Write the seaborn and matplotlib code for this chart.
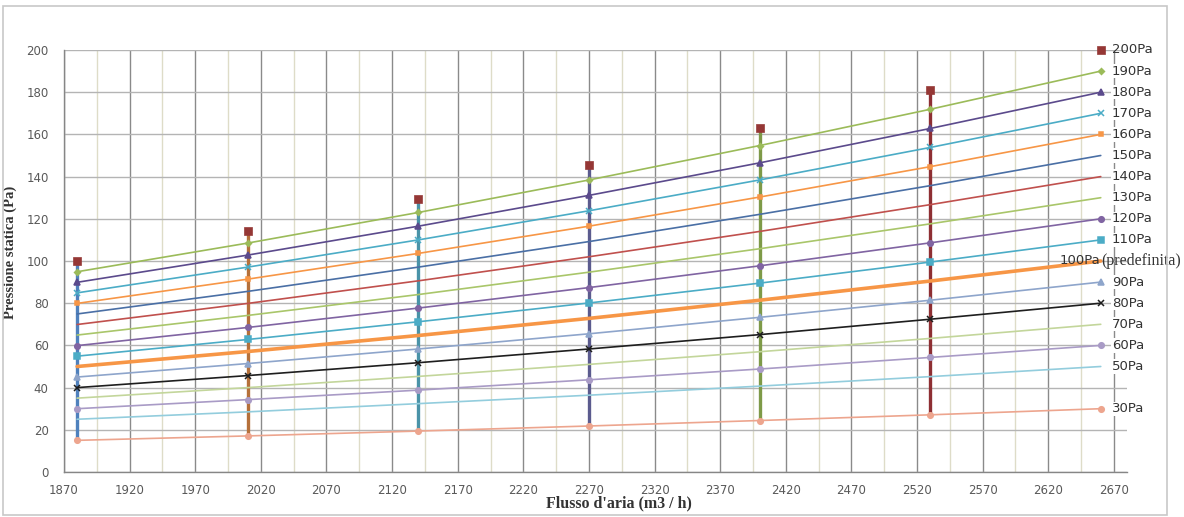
import matplotlib
matplotlib.use("Agg")
import numpy as np
import matplotlib.pyplot as plt
import matplotlib.patches as mpatches
from matplotlib.ticker import FixedLocator
import seaborn as sns

# dati
flow = [1880, 2010, 2140, 2270, 2400, 2530, 2660]
p200 = [99.9, 114.2, 129.4, 145.7, 162.8, 180.9, 200]
p190 = [94.9, 108.5, 123.0, 138.4, 154.7, 171.9, 190]
p180 = [89.9, 102.8, 116.5, 131.1, 146.5, 162.8, 180]
p170 = [84.9, 97.1, 110.0, 123.8, 138.4, 153.8, 170]
p160 = [79.9, 91.4, 103.6, 116.5, 130.3, 144.7, 160]
p150 = [74.9, 85.6, 97.1, 109.2, 122.1, 135.7, 150]
p140 = [69.9, 79.9, 90.6, 102.0, 114.0, 126.7, 140]
p130 = [64.9, 74.2, 84.1, 94.7, 105.8, 117.6, 130]
p120 = [59.9, 68.5, 77.7, 87.4, 97.7, 108.6, 120]
p110 = [54.9, 62.8, 71.2, 80.1, 89.5, 99.5, 110]
p100 = [50.0, 57.1, 64.7, 72.8, 81.4, 90.5, 100]
p90 = [45.0, 51.4, 58.3, 65.5, 73.3, 81.4, 90]
p80 = [40.0, 45.7, 51.8, 58.3, 65.1, 72.4, 80]
p70 = [35.0, 40.0, 45.3, 51.0, 57.0, 63.3, 70]
p60 = [30.0, 34.3, 38.8, 43.7, 48.8, 54.3, 60]
p50 = [25.0, 28.5, 32.4, 36.4, 40.7, 45.2, 50]
p30 = [15.0, 17.1, 19.4, 21.8, 24.4, 27.1, 30]

x_ticks = np.arange(1870, 2671, 50)
y_ticks = np.arange(0, 201, 20)

# (etichetta, valori, colore, marker, dimensione marker, spessore linea)
curves = [
    ("190Pa", p190, "#9BBB59", "D", 3.0, 1.2),
    ("180Pa", p180, "#5B4A8C", "^", 4.0, 1.2),
    ("170Pa", p170, "#4BACC6", "x", 4.0, 1.2),
    ("160Pa", p160, "#F79646", "s", 3.5, 1.2),
    ("150Pa", p150, "#4A6FA5", None, 0, 1.2),
    ("140Pa", p140, "#C0504D", None, 0, 1.2),
    ("130Pa", p130, "#A9C66A", None, 0, 1.2),
    ("120Pa", p120, "#8064A2", "o", 4.0, 1.2),
    ("110Pa", p110, "#4BACC6", "s", 5.0, 1.2),
    ("100Pa", p100, "#F79646", None, 0, 2.6),
    ("90Pa", p90, "#8EA5CB", "^", 4.0, 1.2),
    ("80Pa", p80, "#1E1E1E", "x", 4.0, 1.2),
    ("70Pa", p70, "#C3D69B", None, 0, 1.2),
    ("60Pa", p60, "#A99BC6", "o", 4.0, 1.2),
    ("50Pa", p50, "#93CDDD", None, 0, 1.2),
    ("30Pa", p30, "#EDA58E", "o", 4.0, 1.2),
]
speed_colors = ["#4F81BD", "#B5703A", "#4A93A8", "#5B5B8E", "#7E9A48", "#8E2F33"]

sns.set_style("white")
plt.rcParams["font.family"] = ["DejaVu Sans"]

fig = plt.figure(figsize=(11.84, 5.17), dpi=100)
ax = fig.add_axes([64 / 1184, 45 / 517, 1063 / 1184, 422 / 517])

# cornice esterna
fig.patches.append(mpatches.Rectangle((3 / 1184, 2 / 517), 1164 / 1184, 509 / 517,
                                      transform=fig.transFigure, fill=False,
                                      edgecolor="#c8c8c8", linewidth=1.2, zorder=0))

# linee verticali (velocità)
for i, xv in enumerate(flow[:-1]):
    sns.lineplot(x=[xv, xv], y=[p30[i], p200[i]], estimator=None, sort=False,
                 color=speed_colors[i], linewidth=2.4, ax=ax, zorder=2)

# curve di impianto
for name, vals, col, mk, ms, lw in curves:
    kw = {}
    if mk is not None:
        kw = dict(marker=mk, markersize=ms, markeredgecolor=col,
                  markerfacecolor=col, markeredgewidth=1.1)
    sns.lineplot(x=flow, y=vals, estimator=None, color=col, linewidth=lw,
                 ax=ax, zorder=3, **kw)
    if name == "100Pa":
        ax.annotate("100Pa", (flow[-1], vals[-1]), xytext=(0, 0),
                    textcoords="offset pixels", ha="right", va="center",
                    fontsize=9.5, color="#333333", annotation_clip=False)
        ax.annotate("(predefinita)", (flow[-1], vals[-1]), xytext=(0, 0),
                    textcoords="offset pixels", ha="left", va="center",
                    fontsize=11.5, family="Liberation Serif", color="#333333",
                    annotation_clip=False)
    else:
        ax.annotate(name, (flow[-1], vals[-1]), xytext=(11, 0),
                    textcoords="offset pixels", ha="left", va="center",
                    fontsize=9.5, color="#333333", annotation_clip=False,
                    bbox=dict(facecolor="white", edgecolor="none", pad=0.5))

# 200Pa solo marker
sns.scatterplot(x=flow, y=p200, marker="s", s=36, color="#953735",
                edgecolor="#953735", ax=ax, zorder=4, clip_on=False)
ax.annotate("200Pa", (flow[-1], p200[-1]), xytext=(11, 0),
            textcoords="offset pixels", ha="left", va="center",
            fontsize=9.5, color="#333333", annotation_clip=False)

ax.set_xlim(1870, 2680)
ax.set_ylim(0, 200)
ax.xaxis.set_major_locator(FixedLocator(x_ticks))
ax.xaxis.set_minor_locator(FixedLocator(np.arange(1895, 2680, 50)))
ax.set_yticks(y_ticks)
ax.grid(which="major", axis="x", color="#8a8a8a", linewidth=1.0, zorder=0)
ax.grid(which="minor", axis="x", color="#dedcc8", linewidth=1.0, zorder=0)
ax.grid(which="major", axis="y", color="#b4b4b4", linewidth=1.0, zorder=0)
ax.set_axisbelow(True)

for side in ["top", "right"]:
    ax.spines[side].set_visible(False)
for side in ["left", "bottom"]:
    ax.spines[side].set_color("#868686")
    ax.spines[side].set_linewidth(1.0)

ax.tick_params(axis="both", which="major", direction="out", length=4,
               color="#868686", labelsize=8.5, labelcolor="#595959")
ax.tick_params(axis="x", pad=5)
ax.tick_params(axis="y", pad=7)
ax.tick_params(axis="x", which="minor", length=0)

ax.set_xlabel("Flusso d'aria (m3 / h)", fontsize=11.5, fontweight="bold",
              family="Liberation Serif", color="#333333")
ax.set_ylabel("Pressione statica (Pa)", fontsize=10.5, fontweight="bold",
              family="Liberation Serif", color="#333333")
ax.xaxis.set_label_coords(0.522, -0.055)
ax.yaxis.set_label_coords(-0.044, 0.52)

fig.savefig("out.png", dpi=100)
